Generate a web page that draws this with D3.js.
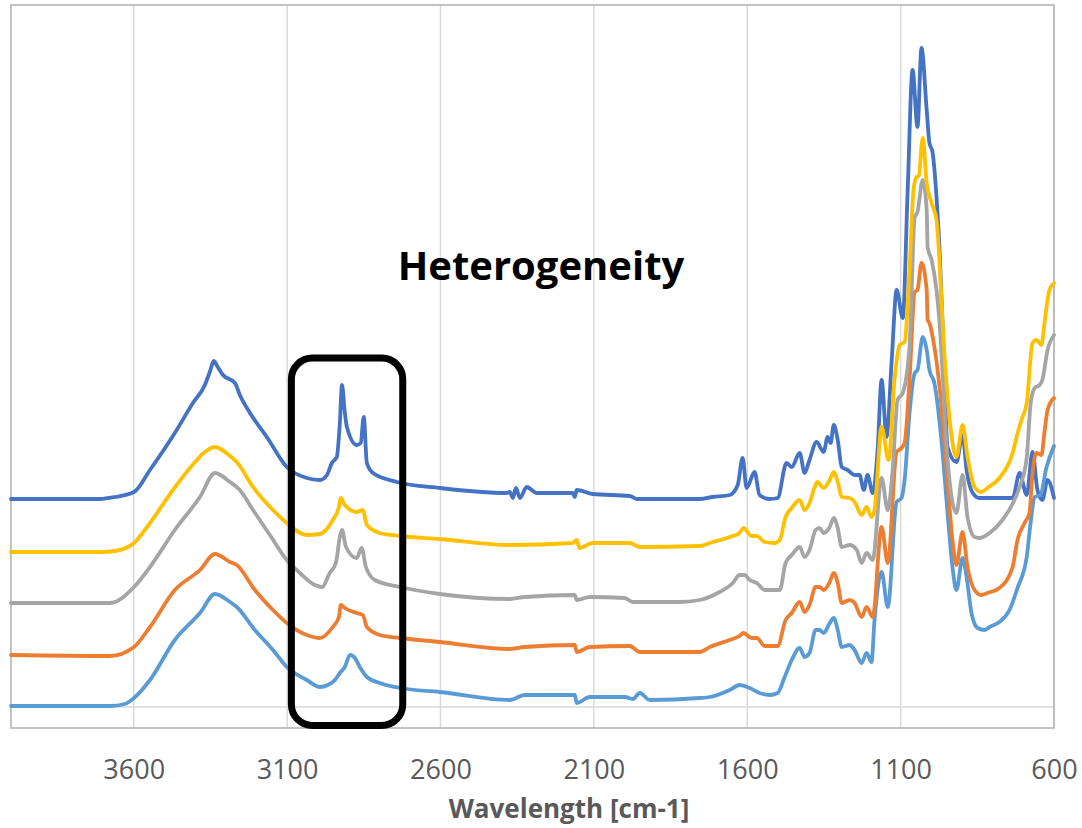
<!DOCTYPE html>
<html><head><meta charset="utf-8">
<script src="https://cdn.jsdelivr.net/npm/d3@7"></script>
<style>body{margin:0;background:#fff}svg{display:block}</style>
</head><body>
<svg id="chart" width="1082" height="828"></svg>
<script>
// ---- data (wavenumber [cm-1], absorbance with offset) ----
const xTicks = [3600, 3100, 2600, 2100, 1600, 1100, 600];
const xTitle = "Wavelength [cm-1]";
const annotationText = "Heterogeneity";
// highlighted region [wavenumber from, to], [value low, high]
const boxW = [3086, 2723];
const boxV = [-0.185, 3.49];

const seriesDarkBlue = [[4000,2.08],[3710,2.08],[3661,2.10],[3599,2.15],[3547,2.37],[3466,2.74],[3407,3.04],[3368,3.22],[3352,3.35],[3339,3.46],[3326,3.40],[3309,3.32],[3270,3.24],[3254,3.12],[3221,2.94],[3166,2.70],[3101,2.40],[3036,2.29],[2993,2.27],[2970,2.32],[2954,2.44],[2938,2.50],[2928,2.84],[2921,3.22],[2912,2.95],[2905,2.80],[2873,2.62],[2860,2.64],[2850,2.90],[2840,2.44],[2820,2.34],[2742,2.25],[2602,2.19],[2384,2.14],[2374,2.15],[2364,2.09],[2354,2.19],[2341,2.09],[2319,2.20],[2286,2.14],[2169,2.14],[2162,2.10],[2156,2.17],[2104,2.13],[1983,2.11],[1960,2.08],[1755,2.08],[1713,2.10],[1657,2.12],[1631,2.22],[1615,2.49],[1602,2.19],[1576,2.35],[1560,2.12],[1527,2.08],[1501,2.09],[1472,2.44],[1455,2.40],[1429,2.54],[1413,2.34],[1397,2.47],[1374,2.65],[1351,2.55],[1338,2.70],[1328,2.64],[1318,2.82],[1305,2.67],[1292,2.40],[1273,2.37],[1250,2.32],[1234,2.32],[1220,2.17],[1208,2.32],[1191,2.14],[1175,2.57],[1162,3.27],[1146,2.70],[1129,3.47],[1113,4.17],[1093,3.89],[1077,5.17],[1061,6.37],[1045,5.80],[1032,6.59],[1015,5.97],[1006,5.64],[996,5.55],[983,5.10],[973,4.57],[960,3.57],[947,2.60],[918,2.45],[898,2.72],[885,2.37],[865,2.14],[843,2.09],[735,2.09],[712,2.34],[689,2.12],[670,2.55],[654,2.17],[638,2.07],[621,2.27],[600,2.09]];

const seriesYellow = [[4000,1.55],[3710,1.55],[3661,1.56],[3599,1.64],[3547,1.84],[3472,2.17],[3400,2.45],[3368,2.55],[3335,2.60],[3286,2.51],[3264,2.45],[3211,2.20],[3146,1.97],[3101,1.84],[3036,1.72],[2993,1.73],[2951,1.87],[2931,2.00],[2925,2.09],[2912,2.02],[2873,1.95],[2853,1.97],[2840,1.82],[2798,1.74],[2732,1.71],[2602,1.68],[2374,1.62],[2169,1.64],[2156,1.67],[2147,1.59],[2104,1.64],[1983,1.64],[1950,1.60],[1755,1.61],[1722,1.64],[1657,1.70],[1625,1.74],[1612,1.79],[1586,1.71],[1569,1.71],[1543,1.65],[1511,1.64],[1494,1.67],[1475,1.90],[1455,1.99],[1429,2.07],[1413,1.97],[1397,2.04],[1380,2.20],[1371,2.25],[1351,2.19],[1331,2.27],[1318,2.35],[1305,2.25],[1292,2.10],[1266,2.09],[1250,2.05],[1227,1.92],[1211,2.00],[1195,1.90],[1185,1.97],[1162,2.80],[1139,2.47],[1120,3.27],[1103,3.62],[1087,3.65],[1071,4.37],[1058,5.17],[1048,5.30],[1041,5.31],[1028,5.69],[1015,5.24],[999,5.04],[983,4.87],[973,4.44],[963,3.84],[940,2.87],[918,2.50],[898,2.82],[882,2.50],[859,2.20],[837,2.15],[817,2.19],[778,2.29],[735,2.54],[722,2.70],[706,2.87],[689,3.04],[670,3.64],[657,3.67],[641,3.62],[631,3.84],[615,4.17],[600,4.24]];

const seriesGray = [[4000,1.04],[3677,1.04],[3599,1.20],[3547,1.40],[3466,1.77],[3384,2.10],[3335,2.34],[3286,2.25],[3254,2.17],[3211,1.97],[3156,1.72],[3101,1.47],[3058,1.34],[3009,1.22],[2986,1.20],[2961,1.34],[2941,1.44],[2928,1.70],[2921,1.77],[2908,1.60],[2873,1.49],[2857,1.59],[2843,1.40],[2814,1.27],[2732,1.20],[2602,1.13],[2374,1.08],[2325,1.10],[2162,1.12],[2156,1.07],[2113,1.10],[1999,1.09],[1973,1.05],[1820,1.05],[1755,1.07],[1690,1.15],[1647,1.24],[1625,1.32],[1609,1.32],[1592,1.27],[1569,1.24],[1543,1.17],[1494,1.17],[1475,1.44],[1455,1.52],[1429,1.60],[1413,1.50],[1397,1.57],[1377,1.77],[1364,1.79],[1351,1.74],[1331,1.80],[1318,1.89],[1305,1.79],[1292,1.60],[1266,1.62],[1243,1.57],[1227,1.44],[1211,1.54],[1191,1.47],[1162,2.29],[1142,1.97],[1126,2.37],[1110,3.07],[1093,3.14],[1071,3.60],[1054,4.90],[1045,4.95],[1028,5.27],[1015,4.97],[1012,4.60],[999,4.47],[983,4.17],[973,3.84],[947,2.47],[918,1.94],[898,2.32],[882,1.90],[859,1.70],[843,1.69],[810,1.74],[768,1.87],[729,2.07],[712,2.20],[689,2.49],[676,3.04],[663,3.19],[647,3.22],[638,3.27],[621,3.57],[600,3.72]];

const seriesOrange = [[4000,0.52],[3677,0.51],[3599,0.60],[3547,0.80],[3466,1.17],[3384,1.37],[3335,1.53],[3286,1.45],[3264,1.42],[3205,1.17],[3146,0.97],[3101,0.84],[3036,0.72],[2993,0.69],[2951,0.80],[2931,0.90],[2925,1.02],[2912,0.99],[2873,0.94],[2853,0.92],[2840,0.80],[2798,0.72],[2732,0.69],[2602,0.65],[2374,0.58],[2325,0.60],[2162,0.62],[2156,0.55],[2113,0.60],[1983,0.61],[1950,0.55],[1755,0.55],[1722,0.60],[1657,0.67],[1625,0.71],[1612,0.74],[1586,0.69],[1569,0.69],[1543,0.61],[1501,0.61],[1475,0.87],[1455,0.94],[1429,1.05],[1413,0.95],[1397,1.02],[1377,1.20],[1364,1.20],[1351,1.17],[1331,1.25],[1318,1.34],[1305,1.24],[1292,1.04],[1266,1.07],[1250,1.04],[1227,0.90],[1211,1.00],[1191,0.90],[1162,1.80],[1142,1.44],[1113,2.55],[1097,2.59],[1087,2.64],[1071,3.27],[1054,4.15],[1045,4.17],[1032,4.44],[1015,4.17],[1012,3.87],[1006,3.84],[990,3.60],[973,3.20],[950,2.37],[931,1.67],[918,1.42],[898,1.75],[882,1.40],[859,1.17],[837,1.12],[817,1.14],[778,1.19],[735,1.40],[719,1.67],[696,1.84],[680,1.94],[670,2.34],[657,2.54],[641,2.52],[631,2.75],[621,2.97],[600,3.09]];

const seriesLightBlue = [[4000,0.01],[3677,0.01],[3629,0.03],[3599,0.09],[3547,0.27],[3466,0.67],[3384,0.94],[3335,1.13],[3286,1.05],[3264,1.00],[3205,0.77],[3146,0.57],[3101,0.40],[3036,0.27],[2993,0.20],[2967,0.22],[2944,0.27],[2928,0.34],[2912,0.40],[2895,0.52],[2879,0.49],[2863,0.40],[2840,0.30],[2798,0.24],[2732,0.19],[2602,0.15],[2374,0.07],[2325,0.12],[2162,0.12],[2156,0.04],[2113,0.10],[1999,0.10],[1973,0.08],[1950,0.14],[1918,0.07],[1755,0.09],[1722,0.10],[1657,0.17],[1625,0.22],[1592,0.19],[1560,0.14],[1527,0.12],[1501,0.14],[1478,0.30],[1455,0.47],[1429,0.59],[1413,0.50],[1397,0.54],[1377,0.77],[1364,0.77],[1351,0.74],[1331,0.84],[1318,0.89],[1305,0.77],[1292,0.60],[1266,0.62],[1250,0.57],[1227,0.44],[1211,0.54],[1195,0.45],[1185,0.87],[1162,1.35],[1142,1.00],[1113,2.05],[1097,2.09],[1087,2.27],[1071,2.94],[1054,3.34],[1045,3.37],[1028,3.70],[1015,3.57],[1006,3.37],[990,3.24],[967,2.67],[947,1.94],[931,1.40],[918,1.17],[898,1.49],[885,1.30],[869,0.94],[849,0.79],[826,0.77],[810,0.80],[778,0.85],[745,0.97],[719,1.19],[689,1.50],[676,1.85],[663,2.10],[644,2.12],[625,2.39],[600,2.61]];

const seriesList = [seriesDarkBlue, seriesLightBlue, seriesOrange, seriesGray, seriesYellow];
const seriesColors = ["#4472C4", "#5B9BD5", "#ED7D31", "#A5A5A5", "#FFC000"];

// ---- layout ----
const W = 1082, H = 828;
const plot = {left: 11, right: 1054, top: 5, bottom: 728};
const svg = d3.select("#chart");

const x = d3.scaleLinear().domain([4000, 600]).range([plot.left, plot.right]);
const y = d3.scaleLinear().domain([-0.21, 7.02]).range([plot.bottom, plot.top]);

// gridlines
const g = svg.append("g");
g.selectAll("line.vg").data(xTicks).join("line")
  .attr("x1", d => x(d)).attr("x2", d => x(d))
  .attr("y1", plot.top).attr("y2", plot.bottom)
  .attr("stroke", "#d9d9d9").attr("stroke-width", 1.5);
g.selectAll("line.hg").data([0]).join("line")
  .attr("x1", plot.left).attr("x2", plot.right)
  .attr("y1", d => y(d)).attr("y2", d => y(d))
  .attr("stroke", "#d9d9d9").attr("stroke-width", 1.5);

// plot border
svg.append("rect")
  .attr("x", plot.left).attr("y", plot.top)
  .attr("width", plot.right - plot.left).attr("height", plot.bottom - plot.top)
  .attr("fill", "none").attr("stroke", "#b4b4b4").attr("stroke-width", 1.6);

// x axis labels
const xAxis = d3.axisBottom(x).tickValues(xTicks).tickSize(0).tickPadding(0).tickFormat(d3.format("d"));
const ax = svg.append("g").attr("transform", `translate(0,${plot.bottom})`).call(xAxis);
ax.select(".domain").remove();
ax.selectAll("text")
  .attr("dy", null).attr("y", 51)
  .attr("fill", "#595959")
  .style("font-family", "'Open Sans', sans-serif").style("font-size", "27px");

// lines
const line = d3.line().x(d => x(d[0])).y(d => y(d[1])).curve(d3.curveMonotoneX);
svg.append("g").selectAll("path").data(seriesList).join("path")
  .attr("d", line)
  .attr("fill", "none")
  .attr("stroke", (d, i) => seriesColors[i])
  .attr("stroke-width", 3.8)
  .attr("stroke-linejoin", "round")
  .attr("stroke-linecap", "round");

// highlight box
svg.append("rect")
  .attr("x", x(boxW[0])).attr("y", y(boxV[1]))
  .attr("width", x(boxW[1]) - x(boxW[0])).attr("height", y(boxV[0]) - y(boxV[1]))
  .attr("rx", 21).attr("ry", 21)
  .attr("fill", "none").attr("stroke", "#000").attr("stroke-width", 7);

// annotation text
svg.append("text")
  .attr("x", 541).attr("y", 280)
  .attr("text-anchor", "middle")
  .style("font-family", "'Open Sans', sans-serif").style("font-weight", "bold").style("font-size", "40px")
  .attr("fill", "#000")
  .text(annotationText);

// axis title
svg.append("text")
  .attr("x", 569).attr("y", 818)
  .attr("text-anchor", "middle")
  .style("font-family", "'Open Sans', sans-serif").style("font-weight", "bold").style("font-size", "26px")
  .attr("fill", "#595959")
  .text(xTitle);
</script>
</body></html>
